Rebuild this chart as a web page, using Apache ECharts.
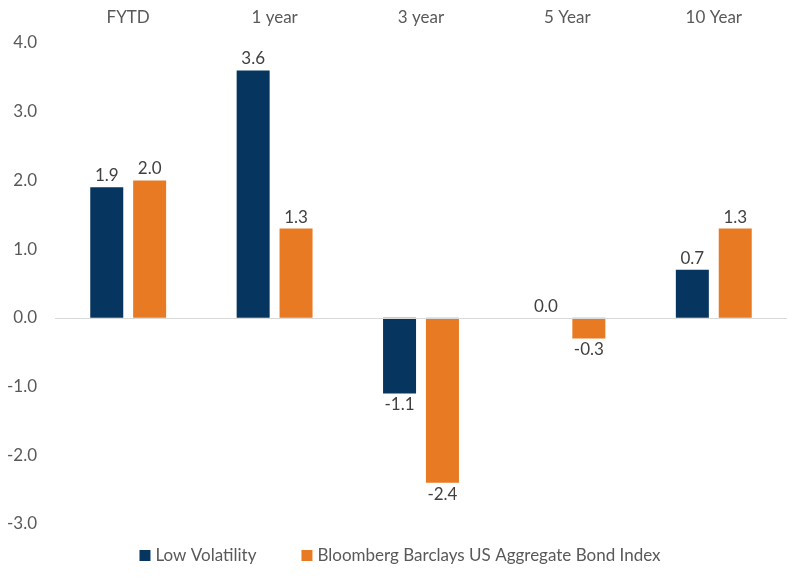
<!DOCTYPE html>
<html>
<head>
<meta charset="utf-8">
<script src="https://cdn.jsdelivr.net/npm/echarts@6/dist/echarts.min.js"></script>
<style>
  html, body { margin: 0; padding: 0; background: #fff; }
  #chart { width: 800px; height: 580px; }
</style>
</head>
<body>
<div id="chart"></div>
<script>
var categories = ['FYTD', '1 year', '3 year', '5 Year', '10 Year'];
var lowVol = [1.9, 3.6, -1.1, 0.0, 0.7];
var bondIndex = [2.0, 1.3, -2.4, -0.3, 1.3];
var seriesNames = ['Low Volatility', 'Bloomberg Barclays US Aggregate Bond Index'];

var font = 'Lato, "Open Sans", sans-serif';

// negative bars get their label under the bar end
function withLabels(values) {
    return values.map(function (v) {
        return { value: v, label: { position: v < 0 ? 'bottom' : 'top' } };
    });
}

var chart = echarts.init(document.getElementById('chart'));
var option = {
    animation: false,
    textStyle: { fontFamily: font },
    grid: { left: 55, right: 13, top: 43, bottom: 56 },
    legend: {
        bottom: 11,
        left: 'center',
        icon: 'rect',
        itemWidth: 11,
        itemHeight: 11,
        itemGap: 45,
        textStyle: { color: '#595959', fontSize: 17, fontFamily: font },
        data: seriesNames
    },
    xAxis: {
        type: 'category',
        position: 'top',
        data: categories,
        axisLine: { show: false, onZero: false },
        axisTick: { show: false },
        axisLabel: { color: '#595959', fontSize: 17, margin: 17 }
    },
    yAxis: {
        type: 'value',
        min: -3,
        max: 4,
        interval: 1,
        splitLine: { show: false },
        axisLine: { show: false },
        axisTick: { show: false },
        axisLabel: {
            color: '#595959',
            fontSize: 17,
            margin: 18,
            formatter: function (v) { return v.toFixed(1); }
        }
    },
    series: [
        {
            name: seriesNames[0],
            type: 'bar',
            barWidth: 33,
            barGap: '30%',
            itemStyle: { color: '#06365f' },
            label: {
                show: true,
                color: '#404040',
                fontSize: 17,
                distance: 3,
                formatter: function (p) { return p.value.toFixed(1); }
            },
            data: withLabels(lowVol),
            markLine: {
                silent: true,
                symbol: 'none',
                label: { show: false },
                lineStyle: { color: '#d9d9d9', type: 'solid', width: 1 },
                data: [{ yAxis: 0 }]
            }
        },
        {
            name: seriesNames[1],
            type: 'bar',
            barWidth: 33,
            itemStyle: { color: '#e87a24' },
            label: {
                show: true,
                color: '#404040',
                fontSize: 17,
                distance: 3,
                formatter: function (p) { return p.value.toFixed(1); }
            },
            data: withLabels(bondIndex)
        }
    ]
};
chart.setOption(option);
</script>
</body>
</html>
